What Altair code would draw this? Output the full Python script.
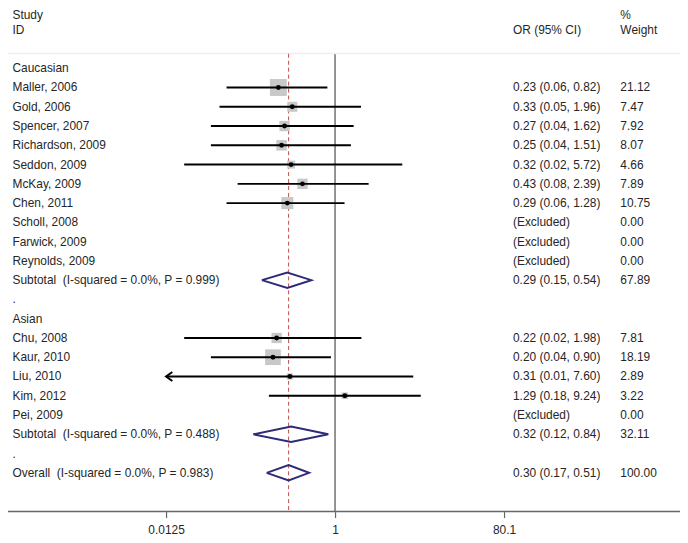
import altair as alt
import pandas as pd

# ---------------- data ----------------
cau_studies = ["Maller, 2006", "Gold, 2006", "Spencer, 2007", "Richardson, 2009",
               "Seddon, 2009", "McKay, 2009", "Chen, 2011"]
cau_or = [0.23, 0.33, 0.27, 0.25, 0.32, 0.43, 0.29]
cau_lo = [0.06, 0.05, 0.04, 0.04, 0.02, 0.08, 0.06]
cau_hi = [0.82, 1.96, 1.62, 1.51, 5.72, 2.39, 1.28]
cau_w = [21.12, 7.47, 7.92, 8.07, 4.66, 7.89, 10.75]
cau_excluded = ["Scholl, 2008", "Farwick, 2009", "Reynolds, 2009"]

asi_studies = ["Chu, 2008", "Kaur, 2010", "Liu, 2010", "Kim, 2012"]
asi_or = [0.22, 0.20, 0.31, 1.29]
asi_lo = [0.02, 0.04, 0.01, 0.18]
asi_hi = [1.98, 0.90, 7.60, 9.24]
asi_w = [7.81, 18.19, 2.89, 3.22]
asi_excluded = ["Pei, 2009"]

summary_labels = ["Subtotal \u00a0(I-squared = 0.0%, P = 0.999)",
                  "Subtotal \u00a0(I-squared = 0.0%, P = 0.488)",
                  "Overall \u00a0(I-squared = 0.0%, P = 0.983)"]
summary_or = [0.29, 0.32, 0.30]
summary_lo = [0.15, 0.12, 0.17]
summary_hi = [0.54, 0.84, 0.51]
summary_w = [67.89, 32.11, 100.00]

axis_ticks = [0.0125, 1, 80.1]
x_min, x_max = 0.0125, 80.1

# ---------------- table ----------------
rows = []
def add(label, kind, est=None, lo=None, hi=None, w=None, ortext="", wtext=""):
    rows.append(dict(row=len(rows), label=label, kind=kind, est=est, lo=lo, hi=hi,
                     w=w, ortext=ortext, wtext=wtext))

def fmt(o, l, h):
    return f"{o:.2f} ({l:.2f}, {h:.2f})"

add("Caucasian", "group")
for s, o, l, h, w in zip(cau_studies, cau_or, cau_lo, cau_hi, cau_w):
    add(s, "study", o, l, h, w, fmt(o, l, h), f"{w:.2f}")
for s in cau_excluded:
    add(s, "excluded", ortext="(Excluded)", wtext="0.00")
add(summary_labels[0], "summary", summary_or[0], summary_lo[0], summary_hi[0], summary_w[0],
    fmt(summary_or[0], summary_lo[0], summary_hi[0]), f"{summary_w[0]:.2f}")
add(".", "blank")
add("Asian", "group")
for s, o, l, h, w in zip(asi_studies, asi_or, asi_lo, asi_hi, asi_w):
    add(s, "study", o, l, h, w, fmt(o, l, h), f"{w:.2f}")
for s in asi_excluded:
    add(s, "excluded", ortext="(Excluded)", wtext="0.00")
add(summary_labels[1], "summary", summary_or[1], summary_lo[1], summary_hi[1], summary_w[1],
    fmt(summary_or[1], summary_lo[1], summary_hi[1]), f"{summary_w[1]:.2f}")
add(".", "blank")
add(summary_labels[2], "summary", summary_or[2], summary_lo[2], summary_hi[2], summary_w[2],
    fmt(summary_or[2], summary_lo[2], summary_hi[2]), f"{summary_w[2]:.2f}")

df = pd.DataFrame(rows)
text_df = df[["row", "label", "ortext", "wtext"]]

studies = df[df.kind == "study"][["row", "est", "lo", "hi", "w"]].copy()
studies["lo_plot"] = studies["lo"].clip(lower=x_min)
studies["hi_plot"] = studies["hi"].clip(upper=x_max)
arrows = studies[studies["lo"] < x_min][["row", "lo_plot"]]

summ = df[df.kind == "summary"]
dia = []
for _, r in summ.iterrows():
    pts = [(r.lo, r.row), (r.est, r.row - 0.4), (r.hi, r.row), (r.est, r.row + 0.4), (r.lo, r.row)]
    for i, (xx, yy) in enumerate(pts):
        dia.append(dict(grp=int(r.row), ord=i, x=float(xx), y=float(yy)))
dia = pd.DataFrame(dia)

headers = pd.DataFrame([
    dict(row=-2.75, label="Study", col="id"),
    dict(row=-2, label="ID", col="id"),
    dict(row=-2, label="OR (95% CI)", col="or"),
    dict(row=-2.75, label="%", col="w"),
    dict(row=-2, label="Weight", col="w"),
])

overall_or = summary_or[2]
# vertical reference lines: null effect (1) and overall estimate
vlines = pd.DataFrame([
    dict(x=1.0, kind="null", top=-0.75, bottom=23.01),
    dict(x=overall_or, kind="overall", top=-0.75, bottom=23.01),
])
hlines = pd.DataFrame([dict(y=-0.77, kind="sep"), dict(y=23.01, kind="axis")])

# ---------------- chart ----------------
FONT = "Liberation Sans"
TXT = "#262626"
xs = alt.Scale(type="log", domain=[x_min, x_max], range=[159, 499], nice=False)
ys = alt.Scale(domain=[0, 21], range=[59, 466], nice=False, zero=False)
Y = alt.Y("row:Q", scale=ys, axis=None)

txt_kw = dict(align="left", baseline="middle", font=FONT, fontSize=12, color=TXT)
base = alt.Chart(text_df)
labels = base.mark_text(**txt_kw).encode(x=alt.value(4.5), y=Y, text="label:N")
ortext = base.mark_text(**txt_kw).encode(x=alt.value(508), y=Y, text="ortext:N")
wtext = base.mark_text(**txt_kw).encode(x=alt.value(616), y=Y, text="wtext:N")

hdr = alt.Chart(headers)
h_id = hdr.transform_filter("datum.col == 'id'").mark_text(**txt_kw).encode(
    x=alt.value(4.5), y=Y, text="label:N")
h_or = hdr.transform_filter("datum.col == 'or'").mark_text(**txt_kw).encode(
    x=alt.value(508), y=Y, text="label:N")
h_w = hdr.transform_filter("datum.col == 'w'").mark_text(**txt_kw).encode(
    x=alt.value(616), y=Y, text="label:N")

hl = alt.Chart(hlines)
sep = hl.transform_filter("datum.kind == 'sep'").mark_rule(color="#eeeeee", strokeWidth=1.5).encode(
    x=alt.value(0), x2=alt.value(676), y=alt.Y("y:Q", scale=ys, axis=None))
axis_line = hl.transform_filter("datum.kind == 'axis'").mark_rule(color="#666666", strokeWidth=1.5).encode(
    x=alt.value(0), x2=alt.value(676), y=alt.Y("y:Q", scale=ys, axis=None))

vl = alt.Chart(vlines)
null_line = vl.transform_filter("datum.kind == 'null'").mark_rule(color="#4d4d4d", strokeWidth=1.2).encode(
    x=alt.X("x:Q", scale=xs,
            axis=alt.Axis(values=axis_ticks, format=".4~g", grid=False, domain=False,
                          tickColor="#666666", tickSize=6, tickWidth=1.2,
                          labelFont=FONT, labelFontSize=12, labelColor=TXT,
                          labelPadding=7, labelFlush=False, title=None)),
    y=alt.Y("top:Q", scale=ys, axis=None), y2="bottom:Q")
ref_line = vl.transform_filter("datum.kind == 'overall'").mark_rule(
    color="#c0504d", strokeWidth=1, strokeDash=[4, 3]).encode(
    x=alt.X("x:Q", scale=xs), y=alt.Y("top:Q", scale=ys, axis=None), y2="bottom:Q")

sq = alt.Chart(studies).mark_square(color="#c8c8c8", opacity=1).encode(
    x=alt.X("est:Q", scale=xs), y=Y,
    size=alt.Size("w:Q", scale=alt.Scale(domain=[0, 21.12], range=[0, 289]), legend=None))
ci = alt.Chart(studies).mark_rule(color="black", strokeWidth=1.9).encode(
    x=alt.X("lo_plot:Q", scale=xs), x2="hi_plot:Q", y=Y)
dots = alt.Chart(studies).mark_circle(color="black", size=24, opacity=1).encode(
    x=alt.X("est:Q", scale=xs), y=Y)
arrow = alt.Chart(arrows).mark_point(shape="M 1.4 -1 L 0 0 L 1.4 1", filled=False,
                                     color="black", strokeWidth=2, size=81, opacity=1).encode(
    x=alt.X("lo_plot:Q", scale=xs), y=Y)

diamonds = alt.Chart(dia).mark_line(color="#2d2a78", strokeWidth=2, strokeJoin="miter").encode(
    x=alt.X("x:Q", scale=xs), y=alt.Y("y:Q", scale=ys, axis=None),
    detail="grp:N", order="ord:Q")

chart = alt.layer(
    null_line, sep, axis_line, ref_line, sq, ci, dots, arrow, diamonds,
    labels, ortext, wtext, h_id, h_or, h_w
).properties(
    width=672, height=505,
    autosize=alt.AutoSizeParams(type="none"),
    padding={"left": 0, "top": 0, "right": 4, "bottom": 30},
).configure_view(stroke=None)

chart.save("out.html", embed_options={"renderer": "svg", "actions": False})
